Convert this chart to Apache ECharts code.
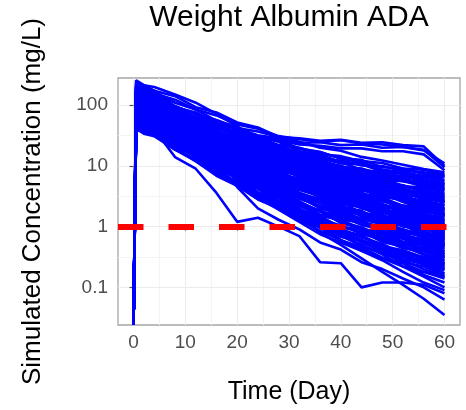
<!DOCTYPE html>
<html><head><meta charset="utf-8">
<script src="https://cdn.jsdelivr.net/npm/echarts@6/dist/echarts.min.js"></script>
<style>html,body{margin:0;padding:0;background:#fff}#c{width:466px;height:410px}</style>
</head><body><div id="c"></div>
<script>
// Sampling times (day)
const times = [0, 0.5, 2, 4, 8, 12, 16, 20, 24, 28, 32, 36, 40, 44, 48, 52, 56, 60];

// Simulated concentrations (mg/L), one array per simulated subject
const profiles = [
  [0,150,142,121,97,70,57,42,37,30,28.5,26,27,24,24.5,22,21,10],
  [0,120,110,102,78,64,49,41,32,28.5,24,24.5,22,22.5,20,20.5,18,11],
  [0,200,188,156,123,85,68,48,41,31,27.5,25,26.5,23.5,22.5,20.5,18.5,9.5],
  [0,90,85,79,62,53,42,37,29,26.5,22.5,21.5,19.5,19.5,17.5,17.5,15.5,8.5],
  [0,224,214,174,141,93,76,52,43,30,25,20,17.8,14.1,12.3,10.5,8.9,7.9],
  [0,112,107,89,78,55,47,34,30,22,20,15.5,14.5,12,11.2,9.1,8.7,7.2],
  [0,71,68,58,51,38,34,25,23,17.4,16.2,12.9,12.3,10.2,10,8.3,7.9,6.9],
  [0,166,141,132,93,76,51,43,30,26,19,17,13.2,12.6,9.5,9.1,7.4,6.8],
  [0,91,81,76,56,48,35,30,22,19.5,14.8,13.8,11,10.7,8.5,7.9,6.8,6.5],
  [0,129,112,107,76,62,43,35,26,22,16.2,14.8,11.5,11,8.5,7.9,6.6,5.9],
  [0,55,54,46,42,30,27,20,18.6,14.1,13.2,10.5,10,8.3,7.9,6.6,6.5,5.6],
  [0,204,174,166,110,85,56,44,30,25,17.4,15.5,11.5,10.7,8.1,7.4,6.0,5.2],
  [0,102,91,85,60,50,35,30,21,18.2,13.5,12.3,9.5,9.1,7.1,6.8,5.6,5.0],
  [0,78,76,63,54,37,32,23,20,14.5,12.9,10,9.3,7.6,7.1,5.6,5.5,4.7],
  [0,145,126,117,79,63,42,34,23,19.5,14.1,12.6,9.5,8.9,6.8,6.2,5.1,4.5],
  [0,65,58,55,40,34,25,21,15.5,13.8,10.2,9.5,7.6,7.4,5.9,5.6,4.7,4.3],
  [0,182,155,145,95,72,47,36,25,20,14.1,12.3,9.1,8.5,6.3,5.8,4.6,4.1],
  [0,49,48,41,35,25,22,15.8,14.1,10.7,9.8,7.6,7.2,5.9,5.6,4.6,4.5,3.8],
  [0,110,105,85,69,46,36,25,20,14.1,12.3,9.1,8.3,6.5,5.9,4.5,4.4,3.5],
  [0,91,79,76,51,42,28,23,16.2,13.8,10,8.9,6.9,6.5,5.0,4.7,3.8,3.4],
  [0,257,214,200,150,110,72,45,28,20,13.8,11.7,8.3,7.6,5.5,4.8,3.8,3.2],
  [0,69,66,55,46,31,26,17.8,15.1,10.7,9.3,7.1,6.6,5.1,4.8,3.7,3.6,3.0],
  [0,123,117,93,74,47,37,24,19.5,13.2,11,8.1,7.2,5.5,5.0,3.8,3.5,2.9],
  [0,46,41,39,28,23,16.6,14.1,10.2,9.1,6.8,6.3,4.9,4.8,3.7,3.5,3.0,2.7],
  [0,98,93,76,60,38,30,20,16.2,11.2,9.5,6.9,6.3,4.8,4.4,3.3,3.2,2.6],
  [0,162,135,126,79,59,37,28,18.2,14.5,9.8,8.3,6.0,5.5,4.1,3.6,2.9,2.5],
  [0,81,71,66,44,35,23,18.2,12.6,10.5,7.4,6.6,4.9,4.7,3.5,3.2,2.6,2.3],
  [0,62,59,48,40,26,21,14.5,12,8.3,7.2,5.5,5.0,3.9,3.5,2.75,2.6,2.2],
  [0,129,120,95,72,45,34,21,16.6,11,8.9,6.3,5.5,4.2,3.7,2.75,2.6,2.0],
  [0,98,83,78,50,38,25,19,12.6,10.2,7.1,6.2,4.6,4.2,3.1,2.8,2.2,1.95],
  [0,195,162,148,89,63,38,28,17.4,13.2,8.7,7.2,5.1,4.6,3.2,2.8,2.2,1.86],
  [0,51,49,40,32,21,17.4,11.7,9.8,6.8,5.9,4.4,4.0,3.1,2.9,2.2,2.1,1.74],
  [0,117,110,87,66,40,30,18.2,14.5,9.3,7.6,5.4,4.7,3.5,3.0,2.2,2.1,1.66],
  [0,74,69,56,44,28,21,13.8,11,7.4,6.2,4.5,4.0,3.0,2.7,2.0,1.9,1.55],
  [0,155,132,117,71,50,30,22,13.8,10.5,6.9,5.8,4.1,3.6,2.6,2.2,1.8,1.48],
  [0,43,37,35,24,18.6,12.6,10.2,7.2,6.0,4.4,3.9,2.95,2.75,2.1,1.95,1.58,1.41],
  [0,107,91,83,51,37,23,17,11,8.3,5.6,4.8,3.5,3.1,2.2,2.0,1.55,1.32],
  [0,81,76,60,46,28,21,13.5,10.5,6.9,5.6,4.0,3.5,2.6,2.3,1.74,1.62,1.26],
  [0,214,174,155,89,60,35,24,14.5,10.5,6.6,5.4,3.6,3.2,2.2,1.86,1.45,1.17],
  [0,59,55,45,35,21,16.6,10.5,8.3,5.6,4.6,3.3,2.95,2.2,2.0,1.48,1.41,1.12],
  [0,141,117,105,63,43,26,18.2,11.2,8.3,5.4,4.5,3.1,2.75,1.91,1.66,1.29,1.07],
  [0,93,79,71,44,31,19,13.8,8.9,6.8,4.5,3.8,2.7,2.4,1.74,1.51,1.2,1.0],
  [0,68,63,50,38,23,17,10.5,8.3,5.4,4.4,3.1,2.7,2.0,1.74,1.29,1.2,0.95],
  [0,178,145,129,74,49,28,19,11.5,8.1,5.2,4.2,2.8,2.5,1.7,1.45,1.1,0.89],
  [0,47,44,35,27,16.6,12.9,8.1,6.5,4.3,3.5,2.6,2.2,1.7,1.51,1.12,1.07,0.85],
  [0,117,98,87,51,35,20,14.5,8.9,6.6,4.3,3.5,2.4,2.1,1.48,1.26,0.98,0.81],
  [0,245,195,174,95,60,32,21,12.3,8.5,5.2,4.1,2.7,2.3,1.51,1.26,0.95,0.76],
  [0,65,60,47,35,20,15.1,9.1,7.1,4.5,3.5,2.5,2.1,1.58,1.38,1.0,0.93,0.72],
  [0,89,74,66,40,27,16.2,11.5,7.1,5.2,3.4,2.8,1.95,1.74,1.2,1.05,0.81,0.68],
  [0,148,123,107,60,39,22,14.8,8.9,6.3,4.0,3.2,2.1,1.82,1.23,1.05,0.79,0.65],
  [0,54,50,39,29,17,12.6,7.8,5.9,3.8,3.0,2.1,1.82,1.35,1.15,0.85,0.79,0.62],
  [0,112,93,81,47,31,17.8,12,7.2,5.2,3.3,2.7,1.82,1.58,1.1,0.91,0.71,0.58],
  [0,78,71,55,39,22,15.5,9.1,6.6,4.1,3.2,2.1,1.78,1.32,1.1,0.79,0.71,0.55],
  [0,186,148,129,71,44,24,15.5,8.7,6.0,3.6,2.8,1.86,1.58,1.05,0.87,0.65,0.51],
  [0,47,40,35,22,15.5,9.3,6.9,4.4,3.3,2.2,1.86,1.32,1.17,0.85,0.74,0.59,0.49],
  [0,98,89,68,46,25,17,9.5,6.9,4.1,3.1,2.0,1.66,1.2,0.98,0.69,0.62,0.47],
  [0,71,65,49,35,19.5,13.5,7.8,5.6,3.5,2.6,1.78,1.48,1.07,0.89,0.63,0.58,0.44],
  [0,135,110,95,52,33,17.8,11.7,6.8,4.7,2.9,2.2,1.48,1.26,0.83,0.69,0.52,0.42],
  [0,56,51,40,28,15.8,11.2,6.5,4.8,2.95,2.2,1.51,1.29,0.93,0.78,0.56,0.51,0.39],
  [0,170,135,117,62,38,20,12.6,7.1,4.8,2.9,2.2,1.41,1.2,0.78,0.63,0.48,0.37],
  [0,41,34,31,18.6,12.9,7.8,5.5,3.5,2.6,1.7,1.41,1.0,0.89,0.63,0.55,0.43,0.35],
  [0,93,83,63,42,22,14.8,8.1,5.6,3.2,2.4,1.58,1.26,0.89,0.72,0.5,0.45,0.33],
  [0,123,100,85,46,29,15.5,9.8,5.6,3.8,2.3,1.78,1.17,0.98,0.65,0.54,0.4,0.32],
  [0,62,56,43,29,15.8,10.7,6.0,4.4,2.6,1.95,1.29,1.05,0.76,0.62,0.44,0.39,0.3],
  [0,85,69,60,33,21,11.5,7.6,4.5,3.1,1.91,1.48,0.98,0.83,0.56,0.47,0.35,0.28],
  [0,204,158,135,69,40,20,12.3,6.6,4.3,2.45,1.82,1.15,0.93,0.6,0.48,0.35,0.27],
  [0,51,43,37,21,14.1,7.9,5.5,3.2,2.3,1.48,1.17,0.81,0.69,0.48,0.41,0.31,0.25],
  [0,74,66,50,33,17.4,11.2,6.2,4.3,2.45,1.82,1.17,0.93,0.66,0.52,0.36,0.32,0.24],
  [0,107,87,72,39,23,12.6,7.9,4.4,2.95,1.74,1.32,0.87,0.72,0.48,0.38,0.29,0.22],
  [0,45,37,32,18.6,12,6.9,4.7,2.8,2.0,1.26,1.0,0.69,0.59,0.41,0.35,0.26,0.21],
  [0,89,79,59,37,19,12,6.3,4.3,2.4,1.74,1.1,0.85,0.6,0.47,0.32,0.28,0.2],
  [0,62,50,44,24,15.1,8.1,5.4,3.1,2.1,1.32,1.02,0.68,0.58,0.38,0.32,0.24,0.19],
  [0,102,91,85,66,58,44,38,30,26,19.5,17,13.2,11.5,8.7,7.6,5.9,5.0],
  [0,78,76,63,55,41,35,26,23,17,15.1,11,9.8,7.2,6.3,4.7,4.1,3.1],
  [0,65,56,54,39,34,25,21,15.5,13.5,9.8,8.3,6.0,5.2,3.8,3.3,2.4,1.95],
  [0,115,98,91,63,51,35,29,20,16.6,11.2,9.3,6.3,5.2,3.5,2.95,2.0,1.55],
  [0,55,52,43,36,26,22,15.5,13.2,9.3,7.9,5.5,4.7,3.3,2.8,2.0,1.7,1.23],
  [0,91,78,71,48,39,26,21,14.5,11.7,7.9,6.5,4.4,3.5,2.3,1.9,1.29,0.98],
  [0,69,65,51,42,28,23,15.5,12.6,8.5,6.9,4.7,3.8,2.5,2.0,1.38,1.12,0.78],
  [0,51,44,41,28,22,15.1,12.6,8.5,6.9,4.7,3.9,2.6,2.1,1.45,1.17,0.81,0.62],
  [0,129,107,95,60,46,28,21,13.5,10.2,6.5,4.9,3.1,2.3,1.45,1.1,0.69,0.49],
  [0,62,58,45,35,23,17.8,11.5,8.9,5.8,4.6,2.95,2.3,1.48,1.15,0.74,0.59,0.39],
  [0,46,39,35,23,18.2,11.7,9.1,6.0,4.8,3.1,2.45,1.58,1.26,0.81,0.65,0.42,0.31],
  [0,81,68,59,36,28,17,12.6,7.8,5.8,3.6,2.7,1.66,1.23,0.76,0.56,0.35,0.25],
  [0,51,50,43,38,28,26,19,17.4,12.9,11.7,8.7,7.9,5.9,5.4,4.0,3.6,2.75],
  [0,98,85,79,56,49,34,30,21,17.8,12.6,10.7,7.6,6.5,4.6,3.9,2.75,2.2],
  [0,41,35,33,23,20,14.1,12,8.5,7.2,5.1,4.3,3.0,2.6,1.82,1.55,1.1,0.87],
  [0,74,72,62,55,42,37,28,25,19,17,12.9,11.5,8.7,7.8,5.9,5.2,4.1],
  [0,59,55,44,35,22,17.8,11.7,9.3,6.2,4.9,3.2,2.6,1.66,1.32,0.87,0.69,0.47],
  [0,145,123,112,74,58,38,30,20,15.8,10.5,8.3,5.5,4.3,2.8,2.2,1.48,1.1],
  [0,49,43,41,30,26,19,16.6,12,10.7,7.8,6.8,4.9,4.3,3.1,2.75,2.0,1.62],
  [0,85,78,60,46,29,22,13.8,10.5,6.6,5.0,3.1,2.3,1.48,1.12,0.71,0.54,0.35],
  [0,130,121,101,82,59,48,35,28,20.5,16.4,12.1,10,7.3,5.8,4.3,3.4,2.5],
  [0,88,79,73,53,45,32,27.5,19.4,16.8,12.2,10.6,7.8,6.8,4.8,4.2,3.0,2.6],
  [0,60,58,49,41,30,25.5,19,15.6,11.8,9.5,7.2,5.9,4.4,3.5,2.6,2.1,1.55],
  [0,175,148,130,86,63,42,32,21.5,16.8,11.7,9.3,6.6,5.3,3.8,3.1,2.2,1.85],
  [0,105,97,82,63,45,35,24.5,19,13.7,10.6,7.8,6.1,4.5,3.5,2.55,2.0,1.46],
  [0,72,65,59,44,35,25.5,20.3,14.4,11.3,7.9,6.2,4.3,3.4,2.35,1.85,1.3,1.02],
  [0,140,124,102,73,50,37,25.4,18.9,13.1,9.8,6.8,5.2,3.6,2.75,1.95,1.48,1.07],
  [0,52,50,43,36,27.4,22.5,16.6,13.3,9.7,7.6,5.5,4.2,3.0,2.35,1.66,1.28,0.9],
  [0,95,86,72,54,37,27.6,19,14.3,9.8,7.4,5.1,3.8,2.65,2.0,1.37,1.02,0.73],
  [0,118,102,91,63,46,31,23,15.6,11.7,7.9,5.9,4.0,3.0,2.05,1.53,1.05,0.8],
  [0,66,62,53,42,30,23.5,16.6,12.8,8.9,6.8,4.7,3.6,2.45,1.84,1.27,0.97,0.66],
  [0,160,140,116,81,54,39,25.4,18.4,12.2,8.8,5.9,4.3,2.85,2.05,1.37,1.0,0.69],
  [0,80,74,63,48,34,26.6,18.6,14.1,9.7,7.2,4.9,3.6,2.45,1.8,1.19,0.87,0.59],
  [0,58,54,46,36,25.4,19.4,13.9,10.6,7.4,5.6,3.9,2.95,2.05,1.53,1.05,0.79,0.54],
  [0,100,91,77,56,38,28,19,13.9,9.3,6.8,4.5,3.3,2.15,1.58,1.06,0.77,0.51],
  [0,48,45,37,25,14,8.9,5.0,3.4,2.1,1.55,1.0,0.8,0.57,0.48,0.36,0.31,0.23],
  [0,62,56,48,29,18.5,10.2,6.6,3.7,2.6,1.55,1.16,0.76,0.6,0.43,0.34,0.25,0.2],
  [0,75,69,56,38,22,13.9,7.3,4.7,2.6,1.78,1.02,0.73,0.48,0.37,0.26,0.22,0.16],
  [0,44,40,36,22,15.4,9.2,6.3,3.6,2.45,1.38,0.96,0.6,0.46,0.31,0.25,0.18,0.15],
  [0,58,54,44,30,19,13.2,7.6,5.2,3.0,2.0,1.2,0.86,0.55,0.42,0.29,0.24,0.17],
  [0,70,64,55,36,22,13,7,4.2,2.6,1.5,0.8,0.5,0.3,0.18,0.11,0.065,0.035],
  [0,55,50,40,14,9,3.6,1.2,1.4,1.0,0.7,0.26,0.25,0.1,0.12,0.12,0.11,0.08],
  [0,80,72,60,38,22,11,4.5,2.0,1.3,0.9,0.55,0.42,0.26,0.2,0.14,0.1,0.063],
  [0,65,58,50,32,18,9,5,3,1.9,1.2,0.75,0.55,0.4,0.28,0.18,0.12,0.09],
  [0,90,82,70,45,28,17,10,5.5,3.2,1.8,1.1,0.7,0.5,0.35,0.22,0.15,0.1],
  [0,50,46,40,26,16,10,6,3.5,2.2,1.5,1.0,0.6,0.4,0.3,0.25,0.16,0.12],
  [0,100,90,75,48,30,18,11,7,4.2,2.6,1.5,0.9,0.55,0.4,0.28,0.2,0.15],
  [0,40,37,32,20,12,7.5,4.8,3.0,2.0,1.3,0.85,0.6,0.42,0.3,0.22,0.18,0.14]
];

const xTicks = [0, 10, 20, 30, 40, 50, 60];
const yTicks = [0.1, 1, 10, 100];
const yTickLabels = ['0.1', '1', '10', '100'];
const threshold = 1;           // mg/L reference line
const xRange = [-3, 63];
const yRange = [0.024, 281];   // panel limits (mg/L)

const yMinLog = Math.log10(yRange[0]);
const yMaxLog = Math.log10(yRange[1]);
// log10 transform; zero concentrations sit on the panel floor (like -Inf in ggplot)
const toLog = v => v > 0 ? Math.log10(v) : yMinLog;
const yTickLogs = yTicks.map(v => Math.log10(v));

const xMinor = xTicks.slice(1).map((v, i) => (v + xTicks[i]) / 2);
const yMinorLogs = yTickLogs.slice(1).map((v, i) => (v + yTickLogs[i]) / 2);

const font = "'Liberation Sans', Arial, sans-serif";
const chart = echarts.init(document.getElementById('c'), null, {renderer: 'canvas'});

const minorStyle = {color: '#f4f4f4', width: 1, type: 'solid'};
const majorStyle = {color: '#ebebeb', width: 1, type: 'solid'};
const gridLineData = [
  ...xMinor.map(v => ({xAxis: v, lineStyle: minorStyle})),
  ...yMinorLogs.map(v => ({yAxis: v, lineStyle: minorStyle})),
  ...xTicks.map(v => ({xAxis: v, lineStyle: majorStyle})),
  ...yTickLogs.map(v => ({yAxis: v, lineStyle: majorStyle}))
];

const series = [{
  type: 'line', data: [], z: 1, silent: true,
  markLine: {silent: true, z: 0, symbol: ['none', 'none'], label: {show: false},
    animation: false, lineStyle: {type: 'solid'}, emphasis: {disabled: true}, data: gridLineData}
}];
profiles.forEach(p => {
  series.push({
    type: 'line',
    data: times.map((t, i) => [t, toLog(p[i])]),
    symbol: 'none', showSymbol: false, silent: true, clip: true, z: 2,
    lineStyle: {color: '#0000ff', width: 2.6}
  });
});
series.push({
  type: 'line', data: [], z: 3, silent: true,
  markLine: {silent: true, z: 10, symbol: ['none', 'none'], label: {show: false}, animation: false,
    emphasis: {disabled: true},
    data: [{yAxis: Math.log10(threshold)}],
    lineStyle: {color: '#ff0000', width: 6, type: [25.5, 25], cap: 'butt'}}
});

chart.setOption({
  animation: false,
  backgroundColor: '#ffffff',
  title: {
    text: 'Weight Albumin ADA', left: 289, top: 3, textAlign: 'center', padding: 0,
    textStyle: {fontFamily: font, fontSize: 30, fontWeight: 'normal', color: '#000'}
  },
  grid: {left: 118, right: 6, top: 78, bottom: 84, show: true,
    borderColor: '#a6a6a6', borderWidth: 1.3, backgroundColor: 'transparent'},
  xAxis: {
    type: 'value', min: xRange[0], max: xRange[1],
    name: 'Time (Day)', nameLocation: 'middle', nameGap: 55,
    nameTextStyle: {fontFamily: font, fontSize: 25, color: '#000'},
    axisLine: {show: false},
    axisTick: {show: true, customValues: xTicks, length: 4, lineStyle: {color: '#555', width: 1.2}},
    axisLabel: {customValues: xTicks, margin: 8, fontFamily: font, fontSize: 19, color: '#4d4d4d'},
    splitLine: {show: false}
  },
  yAxis: {
    type: 'value', min: yMinLog, max: yMaxLog,
    name: 'Simulated Concentration (mg/L)', nameLocation: 'middle', nameGap: 72, nameRotate: 90,
    nameTextStyle: {fontFamily: font, fontSize: 26, color: '#000'},
    axisLine: {show: false},
    axisTick: {show: true, customValues: yTickLogs, length: 4, lineStyle: {color: '#555', width: 1.2}},
    axisLabel: {customValues: yTickLogs, margin: 10, fontFamily: font, fontSize: 19, color: '#4d4d4d',
      formatter: v => {
        const i = yTickLogs.findIndex(t => Math.abs(t - v) < 1e-6);
        return i >= 0 ? yTickLabels[i] : '';
      }},
    splitLine: {show: false}
  },
  series: series
});
</script></body></html>
